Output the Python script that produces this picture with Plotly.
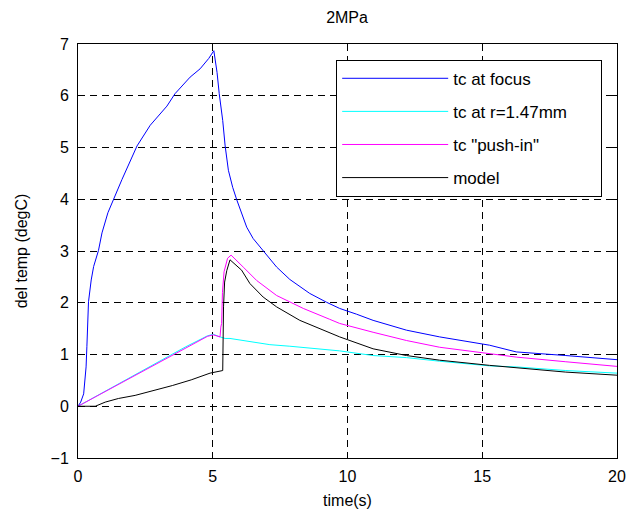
import plotly.graph_objects as go

# tc at focus (blue)
t_focus = [0, 0.1, 0.21, 0.30, 0.33, 0.37, 0.39, 0.49, 0.58, 0.76, 0.89, 1.11, 1.32, 1.63,
           2.19, 2.68, 3.30, 3.60, 4.16, 4.53, 4.85, 5.04, 5.16, 5.24, 5.37, 5.46, 5.58, 5.74,
           5.89, 6.07, 6.26, 6.50, 6.87, 7.37, 7.86, 8.60, 9.22, 9.71, 10.33, 10.95, 12.19,
           13.42, 15.27, 16.26, 18.1, 20.0]
v_focus = [0, 0.08, 0.24, 0.76, 1.15, 1.60, 2.02, 2.44, 2.70, 3.01, 3.35, 3.74, 4.01, 4.38,
           5.03, 5.43, 5.80, 6.04, 6.36, 6.52, 6.72, 6.87, 6.45, 6.04, 5.52, 5.03, 4.56, 4.23,
           3.99, 3.72, 3.46, 3.24, 3.00, 2.69, 2.45, 2.18, 2.01, 1.89, 1.78, 1.66, 1.47,
           1.34, 1.18, 1.05, 0.98, 0.90]

# tc at r=1.47mm (cyan)
t_r147 = [0, 1, 2, 3, 4, 4.8, 5.02, 5.27, 5.46, 5.64, 6.44, 7.12, 7.86, 8.5, 9.71, 10.95,
          12.19, 13.42, 15.27, 16.26, 18.1, 20.0]
v_r147 = [0, 0.29, 0.58, 0.87, 1.15, 1.36, 1.39, 1.34, 1.31, 1.31, 1.24, 1.19, 1.16, 1.13,
          1.07, 0.98, 0.94, 0.87, 0.78, 0.76, 0.69, 0.64]

# tc "push-in" (magenta)
t_push = [0, 1, 2, 3, 4, 4.8, 5.02, 5.27, 5.30, 5.33, 5.36, 5.42, 5.55, 5.68, 6.13, 6.63,
          7.37, 8.36, 9.34, 9.71, 10.95, 12.19, 13.42, 15.27, 16.26, 18.1, 20.0]
v_push = [0, 0.28, 0.56, 0.85, 1.13, 1.35, 1.38, 1.34, 1.53, 1.60, 2.20, 2.60, 2.86, 2.92,
          2.69, 2.43, 2.14, 1.89, 1.68, 1.60, 1.43, 1.27, 1.14, 1.02, 0.95, 0.86, 0.77]

# model (black)
t_model = [0, 0.64, 1.01, 1.5, 2.12, 2.86, 3.5, 4.2, 4.9, 5.37, 5.40, 5.44, 5.52, 5.64, 6.07,
           6.38, 6.87, 7.37, 8.23, 9.71, 10.95, 12.19, 13.42, 15.27, 16.26, 18.1, 20.0]
v_model = [0, 0, 0.08, 0.15, 0.21, 0.31, 0.40, 0.51, 0.64, 0.69, 1.92, 2.40, 2.62, 2.83, 2.63,
           2.37, 2.11, 1.92, 1.66, 1.34, 1.11, 0.98, 0.89, 0.79, 0.74, 0.66, 0.60]

series = [
    ("tc at focus", t_focus, v_focus, "#0000ff"),
    ("tc at r=1.47mm", t_r147, v_r147, "#00ffff"),
    ('tc "push-in"', t_push, v_push, "#ff00ff"),
    ("model", t_model, v_model, "#000000"),
]

x_ticks = [0, 5, 10, 15, 20]
y_ticks = [-1, 0, 1, 2, 3, 4, 5, 6, 7]

fig = go.Figure()
pad = "\u00a0" * 6
for i, (name, t, v, c) in enumerate(series):
    fig.add_trace(go.Scatter(x=t, y=v, mode="lines", name=name + pad, legendgroup=f"g{i}",
                             line=dict(color=c, width=1)))

font_family = "Liberation Sans, Arial, sans-serif"
axis_common = dict(showline=True, linecolor="black", linewidth=1, mirror="ticks",
                   ticks="inside", ticklen=5, tickcolor="black",
                   showgrid=True, gridcolor="black", gridwidth=1, griddash="7px,5px",
                   zeroline=False, tickfont=dict(size=16, color="black"), automargin=False)

fig.update_xaxes(range=[0, 20], tickvals=x_ticks, ticklabelstandoff=4,
                 title=dict(text="time(s)", font=dict(size=16), standoff=10),
                 **axis_common)
fig.update_yaxes(range=[-1, 7], tickvals=y_ticks, ticklabelstandoff=5,
                 title=dict(text="del temp (degC)", font=dict(size=16), standoff=18),
                 **axis_common)

fig.update_layout(
    width=631, height=521,
    margin=dict(l=78, r=14, t=44, b=63),
    paper_bgcolor="white", plot_bgcolor="white",
    font=dict(family=font_family, color="black", size=15),
    title=dict(text="2MPa", x=0.55, xanchor="center", y=0.978, yanchor="top", font=dict(size=16)),
    showlegend=True,
    legend=dict(x=0.479, y=0.962, xanchor="left", yanchor="top",
                bgcolor="white", bordercolor="black", borderwidth=1,
                font=dict(size=17), tracegroupgap=8, itemwidth=106),
)

fig.write_html("out.html")
